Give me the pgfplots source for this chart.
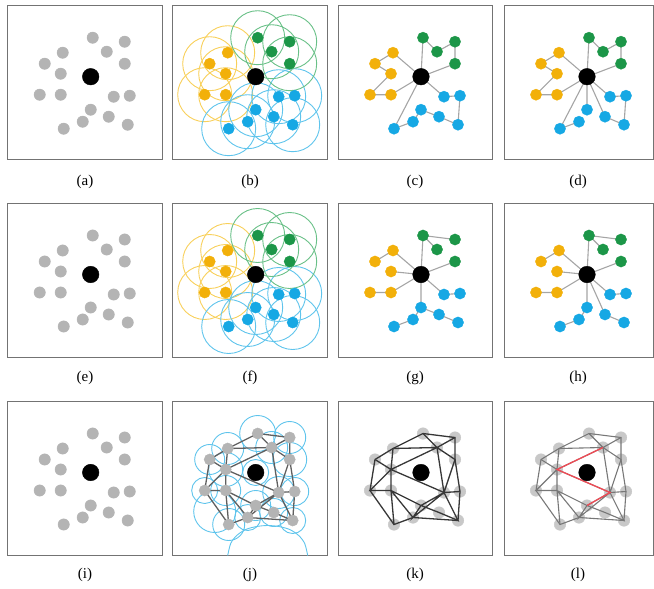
\documentclass[border=0pt]{standalone}
\usepackage{fontspec}
\setmainfont{Liberation Serif}
\usepackage{pgfplots}
\usepackage{pgfplotstable}
\pgfplotsset{compat=1.18}

\definecolor{cyel}{RGB}{242,176,10}
\definecolor{cgrn}{RGB}{28,150,72}
\definecolor{cblu}{RGB}{22,168,228}
\definecolor{cyelc}{RGB}{248,208,90}
\definecolor{cgrnc}{RGB}{105,192,135}
\definecolor{cbluc}{RGB}{95,196,236}
\definecolor{cgray}{RGB}{180,180,180}
\definecolor{cgrayk}{RGB}{200,200,200}
\definecolor{cedge}{RGB}{165,165,165}
\definecolor{cdark}{RGB}{55,55,55}
\definecolor{cmid}{RGB}{95,95,95}
\definecolor{cred}{RGB}{240,75,85}

\pgfplotstableread{
x y
85 32
117 36
99 46
117 58
}\tgreen
\pgfplotstableread{
x y
55 47
37 58
53 68
32 89
53 89
}\tyellow
\pgfplotstableread{
x y
106 91
122 90
83 104
101 111
75 116
120 119
56 123
}\tblue
\pgfplotstableread{
x y
83 71
}\tctr
\pgfplotstableread{
x y
85 32
117 36
99 46
117 58
55 47
37 58
53 68
32 89
53 89
106 91
122 90
83 104
101 111
75 116
120 119
56 123
}\tall
\pgfplotstableread{
x y r
85 32 18
117 36 16
99 46 16
117 58 17
55 47 16
37 58 15
53 68 17
32 89 13
53 89 15
106 91 16
122 90 14
83 104 15
101 111 14
75 116 13
120 119 13
56 123 16
83 71 13
42 110 21
}\tcircles
\pgfplotstableread{
x y
55 154
58 142
64 134
73 128
84 125
95 124
106 125
117 128
126 134
132 142
135 154
}\tarc

\pgfplotsset{
  panel/.style={scale only axis, width=154.5pt, height=154pt,
    xmin=0, xmax=154.5, ymin=0, ymax=154, y dir=reverse,
    xtick=\empty, ytick=\empty,
    axis line style={draw=black!55, line width=1pt},
    clip marker paths=true, anchor=north west, unbounded coords=jump},
  narrow/.style={width=149.5pt, xmax=149.5},
}

\newcommand\ctrdot{\addplot[only marks, mark=*, mark size=8.3, black] table {\tctr};}
\newcommand\grayset{%
  \addplot[only marks, mark=*, mark size=5.7, cgray] table {\tall};
  \ctrdot}
\newcommand\colorset{%
  \addplot[only marks, mark=*, mark size=5.6, cyel] table {\tyellow};
  \addplot[only marks, mark=*, mark size=5.6, cgrn] table {\tgreen};
  \addplot[only marks, mark=*, mark size=5.6, cblu] table {\tblue};
  \ctrdot}
\newcommand\circset{%
  \addplot[only marks, mark=o, mark size=27, cyelc, mark options={line width=0.9pt}] table {\tyellow};
  \addplot[only marks, mark=o, mark size=27, cbluc, mark options={line width=0.9pt}] table {\tblue};
  \addplot[only marks, mark=o, mark size=27, cgrnc, mark options={line width=0.9pt}] table {\tgreen};
  \colorset}
\newcommand\cyelgrn{%
  \addplot[cedge, line width=1.1pt, mark=none] coordinates {(83,71)(85,32)(99,46)(117,36)(117,58)(83,71)};
  \addplot[cedge, line width=1.1pt, mark=none] coordinates {(83,71)(55,47)(37,58)(53,68)(32,89)(53,89)(83,71)};}
\newcommand\gyelgrn{%
  \addplot[cedge, line width=1.1pt, mark=none] coordinates {(117,36)(85,32)(83,71)(117,58) (nan,nan) (85,32)(99,46)};
  \addplot[cedge, line width=1.1pt, mark=none] coordinates {(37,58)(55,47)(83,71)(53,68) (nan,nan) (83,71)(53,89)(32,89)};}
\newcommand\kedges[1]{%
  \addplot[#1, mark=none] coordinates {(37,58)(55,47)(85,32)(117,36)(117,58)(122,90)(120,119)(75,116)(56,123)(32,89)(37,58)};
  \addplot[#1, mark=none] coordinates {(55,47)(99,46)(85,32) (nan,nan) (117,36)(99,46)(117,58)(106,91)(99,46)(53,68)(106,91)(122,90)};
  \addplot[#1, mark=none] coordinates {(55,47)(53,68)(53,89)(56,123) (nan,nan) (37,58)(53,68)(32,89)(53,89)(83,104)(106,91)(75,116)(83,104)(101,111)(120,119)(106,91) (nan,nan) (53,89)(75,116)};}

\begin{document}
\begin{tikzpicture}
\useasboundingbox (0,0) rectangle (654pt,-589pt);
% ---- row 1
\begin{axis}[panel, at={(7.7pt,-5.7pt)}]
\grayset
\end{axis}
\begin{axis}[panel, at={(172.7pt,-5.7pt)}]
\circset
\end{axis}
\begin{axis}[panel, at={(338pt,-5.7pt)}]
\cyelgrn
\addplot[cedge, line width=1.1pt, mark=none] coordinates {(83,71)(56,123)(75,116)(83,104)(101,111)(120,119)(122,90)(106,91)(83,71)};
\colorset
\end{axis}
\begin{axis}[panel, narrow, at={(504pt,-5.7pt)}]
\cyelgrn
\addplot[cedge, line width=1.1pt, mark=none] coordinates {(83,71)(106,91)(122,90)(120,119)(101,111)(83,71) (nan,nan) (83,104)(83,71)(56,123)(75,116)};
\colorset
\end{axis}
% ---- row 2
\begin{axis}[panel, at={(7.7pt,-203.5pt)}]
\grayset
\end{axis}
\begin{axis}[panel, at={(172.7pt,-203.5pt)}]
\circset
\end{axis}
\begin{axis}[panel, at={(338pt,-203.5pt)}]
\gyelgrn
\addplot[cedge, line width=1.1pt, mark=none] coordinates {(122,90)(106,91)(83,71)(83,104)(101,111)(120,119) (nan,nan) (83,104)(75,116)(56,123)};
\colorset
\end{axis}
\begin{axis}[panel, narrow, at={(504pt,-203.5pt)}]
\gyelgrn
\addplot[cedge, line width=1.1pt, mark=none] coordinates {(122,90)(106,91)(83,71)(83,104)(75,116)(56,123) (nan,nan) (83,71)(101,111)(120,119)};
\colorset
\end{axis}
% ---- row 3
\begin{axis}[panel, at={(7.7pt,-401.5pt)}]
\grayset
\end{axis}
\begin{axis}[panel, at={(172.7pt,-401.5pt)}]
\addplot[scatter, only marks, mark=o, scatter/use mapped color={draw=cbluc, fill=none},
  mark options={line width=0.9pt},
  visualization depends on={\thisrow{r} \as \rr},
  scatter/@pre marker code/.append style={/tikz/mark size=\rr}] table {\tcircles};
\addplot[cbluc, line width=0.9pt, mark=none, smooth] table {\tarc};
\kedges{cmid, line width=1.3pt}
\addplot[only marks, mark=*, mark size=5.6, cgray] table {\tall};
\ctrdot
\end{axis}
\begin{axis}[panel, at={(338pt,-401.5pt)}]
\addplot[only marks, mark=*, mark size=5.8, cgrayk] table {\tall};
\kedges{cdark, line width=1.3pt}
\ctrdot
\end{axis}
\begin{axis}[panel, narrow, at={(504pt,-401.5pt)}]
\addplot[only marks, mark=*, mark size=5.8, cgrayk] table {\tall};
\kedges{cmid!85, line width=1.1pt}
\addplot[cred, line width=1.3pt, mark=none] coordinates {(99,46)(53,68)(106,91)(83,104)};
\ctrdot
\end{axis}
% ---- labels
\begin{scope}[every node/.style={font=\fontsize{15}{18}\selectfont}]
\node at (85pt,-182pt) {(a)};
\node at (250pt,-182pt) {(b)};
\node at (415pt,-182pt) {(c)};
\node at (578pt,-182pt) {(d)};
\node at (85pt,-378pt) {(e)};
\node at (250pt,-378pt) {(f)};
\node at (415pt,-378pt) {(g)};
\node at (578pt,-378pt) {(h)};
\node at (85pt,-575pt) {(i)};
\node at (250pt,-575pt) {(j)};
\node at (415pt,-575pt) {(k)};
\node at (578pt,-575pt) {(l)};
\end{scope}
\end{tikzpicture}
\end{document}
